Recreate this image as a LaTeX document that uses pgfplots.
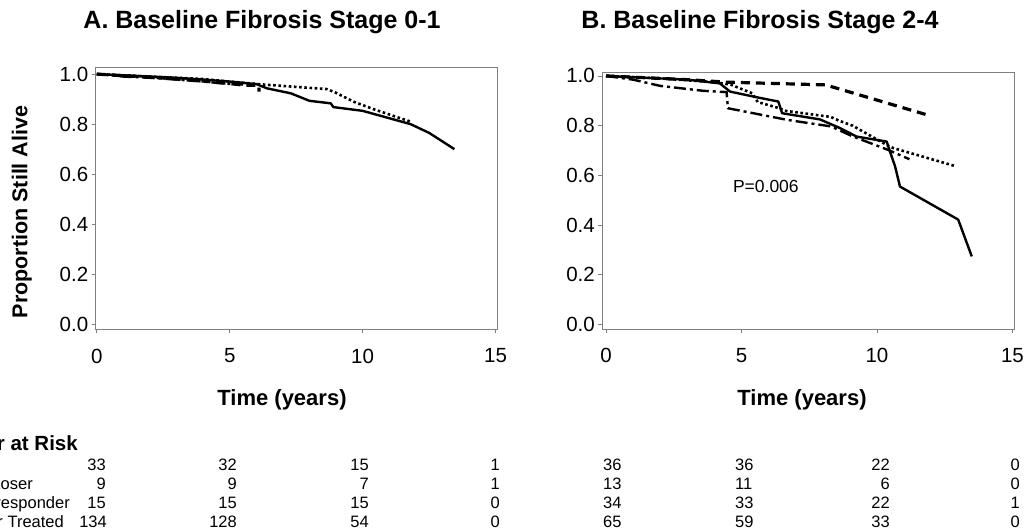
\documentclass[border=0pt]{standalone}
\usepackage{fontspec}
\setmainfont{Liberation Sans}
\usepackage{pgfplots}
\pgfplotsset{compat=1.18}

\pgfplotsset{
  kmaxis/.style={
    anchor=south west, scale only axis,
    xtick={0,5,10,15}, ytick={0,0.2,0.4,0.6,0.8,1.0},
    tick align=outside, tick pos=left,
    major tick length=4pt,
    axis line style={gray, line width=0.8pt},
    major tick style={gray, line width=0.8pt},
    /pgf/number format/assume math mode=true,
    tick label style={font=\fontsize{20.5}{22}\selectfont},
    yticklabel style={/pgf/number format/fixed, /pgf/number format/fixed zerofill,
      /pgf/number format/precision=1},
    xticklabel style={yshift=-12pt},
    clip=false,
  },
  solidkm/.style={black, line width=2.4pt, line join=round},
  dotkm/.style={black, line width=2.6pt, dash pattern=on 2.6pt off 2.6pt},
  dashkm/.style={black, line width=3.2pt, dash pattern=on 9pt off 6pt},
  dashdotkm/.style={black, line width=2.4pt, dash pattern=on 12pt off 4pt on 3pt off 4pt},
}

\begin{document}
\begin{tikzpicture}
\useasboundingbox (0,0) rectangle (1026pt,-532pt);
\clip (0,0) rectangle (1026pt,-532pt);

% A. stage 0-1
\begin{axis}[kmaxis, at={(95.7pt,-329.3pt)}, width=402pt, height=262pt,
  xmin=-0.04, xmax=15.08, ymin=-0.02, ymax=1.027]
\addplot[solidkm] coordinates {
  (0,1.0) (1,0.995) (2,0.99) (3,0.985) (4,0.978) (5,0.97) (6,0.96) (6.4,0.943)
  (7.3,0.923) (8.0,0.893) (8.8,0.883) (8.9,0.868) (10.0,0.853) (11.8,0.80)
  (12.5,0.765) (13.45,0.70)
};
\addplot[dotkm] coordinates {
  (0,1.0) (2,0.99) (4,0.98) (5.5,0.965) (6.4,0.957) (8.65,0.94) (9.0,0.925)
  (9.65,0.89) (10.4,0.86) (11.8,0.81)
};
\addplot[dashkm] coordinates {
  (0,1.0) (1,0.993) (2,0.988) (3,0.98) (4,0.972) (5,0.962) (5.6,0.955)
  (6.1,0.955) (6.1,0.93)
};
\addplot[dashdotkm] coordinates {
  (0,1.0) (1,0.99) (2,0.985) (3,0.978) (4,0.97) (4.8,0.962) (5.5,0.958)
};
\end{axis}

% B. stage 2-4
\begin{axis}[kmaxis, at={(602.3pt,-329pt)}, width=412pt, height=256.3pt,
  xmin=-0.137, xmax=15.07, ymin=-0.018, ymax=1.013]
\addplot[solidkm] coordinates {
  (0,1.0) (1,0.995) (2,0.99) (3,0.985) (4.2,0.97) (4.58,0.937) (5.44,0.917)
  (6.36,0.897) (6.5,0.85) (7.9,0.825) (8.64,0.79) (9.25,0.756) (10.36,0.736)
  (10.48,0.696) (10.67,0.636) (10.85,0.555) (13.0,0.422) (13.5,0.274)
};
\addplot[dotkm] coordinates {
  (0,1.0) (2,0.99) (4,0.975) (4.6,0.965) (5.4,0.93) (5.6,0.895) (6.4,0.87)
  (6.6,0.86) (8.3,0.835) (8.6,0.82) (9.1,0.80) (10.4,0.72) (10.6,0.71)
  (12.9,0.637)
};
\addplot[dashkm] coordinates {
  (0,1.0) (1,0.995) (2,0.99) (3,0.985) (4.45,0.975) (8.1,0.964) (11.8,0.845)
};
\addplot[dashdotkm] coordinates {
  (0,1.0) (1,0.985) (2,0.96) (3.6,0.94) (4.45,0.935) (4.5,0.87) (6.7,0.823)
  (8.3,0.797) (9.1,0.757) (10.4,0.703) (11.2,0.665)
};
\node[font=\fontsize{17.5}{19}\selectfont] at (axis cs:5.9,0.554) {P=0.006};
\end{axis}

% titles and labels
\node[font=\bfseries\fontsize{25}{28}\selectfont] at (262pt,-22pt) {A. Baseline Fibrosis Stage 0-1};
\node[font=\bfseries\fontsize{25}{28}\selectfont] at (760pt,-22pt) {B. Baseline Fibrosis Stage 2-4};
\node[font=\bfseries\fontsize{21.5}{23}\selectfont, rotate=90] at (21.7pt,-212pt) {Proportion Still Alive};
\node[font=\bfseries\fontsize{22}{24}\selectfont] at (282pt,-400pt) {Time (years)};
\node[font=\bfseries\fontsize{22}{24}\selectfont] at (802pt,-400pt) {Time (years)};

% number at risk
\node[font=\bfseries\fontsize{20.5}{22}\selectfont, anchor=base east, inner sep=0pt] at (78pt,-450pt) {Number at Risk};
\begin{scope}[every node/.style={font=\fontsize{16.5}{18}\selectfont, inner sep=0pt}]
\node[anchor=base east] at (33pt,-489.7pt) {Loser};
\node[anchor=base east] at (70pt,-508.7pt) {Non-responder};
\node[anchor=base east] at (64pt,-527.7pt) {Never Treated};
% left table
\foreach \v/\c/\r in {33/106/470.4,32/237/470.4,15/369/470.4,1/500/470.4,
                      9/106/489.7,9/237/489.7,7/369/489.7,1/500/489.7,
                      15/106/508.7,15/237/508.7,15/369/508.7,0/500/508.7,
                      134/107/527.7,128/237/527.7,54/369/527.7,0/500/527.7}
  \node[anchor=base east] at (\c pt,-\r pt) {\v};
% right table
\foreach \v/\c/\r in {36/603/470.4,36/735/470.4,
                      13/603/489.7,11/735/489.7,
                      34/603/508.7,33/735/508.7,
                      65/603/527.7,59/735/527.7}
  \node[anchor=base west] at (\c pt,-\r pt) {\v};
\foreach \v/\c/\r in {22/890/470.4,0/1020/470.4,
                      6/890/489.7,0/1020/489.7,
                      22/890/508.7,1/1020/508.7,
                      33/890/527.7,0/1020/527.7}
  \node[anchor=base east] at (\c pt,-\r pt) {\v};
\end{scope}
\end{tikzpicture}
\end{document}
